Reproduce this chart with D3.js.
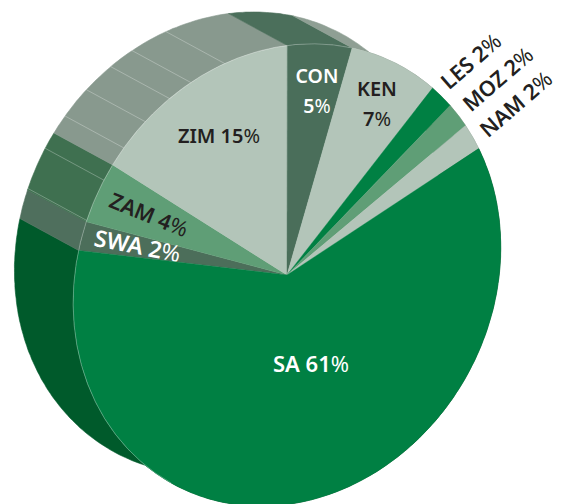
<!DOCTYPE html>
<html>
<head>
<meta charset="utf-8">
<script src="https://cdn.jsdelivr.net/npm/d3@7"></script>
<style>
	body { margin: 0; background: #fff; }
	svg { display: block; }
	text { font-family: "Noto Sans", sans-serif; font-weight: 600; text-anchor: middle; }
	text tspan.pct { font-weight: 400; }
</style>
</head>
<body>
<div id="chart"></div>
<script>
'use strict';

const countries = ["SA", "SWA", "ZAM", "ZIM", "CON", "KEN", "LES", "MOZ", "NAM"];
// unrounded shares as measured from the slice angles, the labels carry the rounded ones
const shares = [60.9, 2, 4.2, 15.2, 4.9, 7, 1.9, 1.9, 2];
const topColours = ["#008043", "#4c6e5a", "#5f9e76", "#b3c5b9", "#4a6e5a", "#b3c5b9", "#008043", "#5f9e76", "#b3c5b9"];
const wallColours = ["#005a2b", "#4f6f5d", "#3f7050", "#88998e", "#4b6f5b", "#8f9f94", "#8f9f94", "#8f9f94", "#8f9f94"];

// thin pale lines on the side wall: which slice, how far along its arc
const wallLineSlice = [2, 2, 3, 3, 3, 3, 3];
const wallLineAlong = [0.02, 0.72, 0.09, 0.24, 0.39, 0.51, 0.69];

// label text, baseline centre, rotation and size
const labelLines = [["SA 61%"], ["SWA 2%"], ["ZAM 4%"], ["ZIM 15%"], ["CON", "5%"], ["KEN", "7%"], ["LES 2%"], ["MOZ 2%"], ["NAM 2%"]];
const labelX = [311, 136, 146, 219, 317, 377, 476, 503, 521];
const labelY = [372, 254, 222, 143, 83, 96, 67, 85, 110];
const labelAngle = [0, 11, 22, 0, 0, 0, -41, -41, -41];
const labelSize = [22, 23, 21.5, 20, 19.5, 20, 21.5, 21.5, 21.5];
const labelFill = ["#fff", "#fff", "#231f20", "#231f20", "#fff", "#231f20", "#231f20", "#231f20", "#231f20"];

const width = 561, height = 504;
const cx = 287, cy = 275;
const rx = 206, ry = 238;	// tilted ellipse, short axis lies along the extrusion
const tilt = 28.5;
const depth = 0.325;		// extrusion in unit circle terms
const start = 31.7 * Math.PI / 180;

const svg = d3.select("#chart")
	.append("svg")
		.attr("width", width)
		.attr("height", height);

const pie = d3.pie()
	.sort(null)
	.startAngle(start)
	.endAngle(start + 2 * Math.PI)
	.value(d => d);
const slices = pie(shares);

const face = svg.append("g")
	.attr("transform", `translate(${cx},${cy}) rotate(${tilt}) scale(${rx},${ry})`);

const arc = d3.arc().innerRadius(0).outerRadius(1);
const rimArc = d3.arc().innerRadius(1).outerRadius(1);

const rim = (a) => [Math.sin(a), -Math.cos(a)];
const line = d3.line();

function wallPath(d) {
	const n = Math.max(8, Math.ceil((d.endAngle - d.startAngle) * 60));
	const along = d3.range(n + 1).map(i => d.startAngle + (d.endAngle - d.startAngle) * i / n);
	const near = along.map(rim);
	const far = along.map(rim).map(p => [p[0] - depth, p[1]]).reverse();
	return line(near.concat(far)) + "Z";
}

// side wall first, the top covers what is not seen
face.append("g")
	.selectAll("path")
	.data(slices)
	.join("path")
		.attr("d", wallPath)
		.attr("fill", (d, i) => wallColours[i])
		.attr("stroke", (d, i) => wallColours[i])
		.attr("stroke-width", 0.6)
		.attr("vector-effect", "non-scaling-stroke");

face.append("g")
	.selectAll("path")
	.data(wallLineSlice)
	.join("path")
		.attr("d", (s, i) => {
			const d = slices[s];
			const p = rim(d.startAngle + (d.endAngle - d.startAngle) * wallLineAlong[i]);
			return line([p, [p[0] - depth, p[1]]]);
		})
		.attr("fill", "none")
		.attr("stroke", "#fff")
		.attr("stroke-opacity", 0.4)
		.attr("stroke-width", 0.7)
		.attr("vector-effect", "non-scaling-stroke");

const drawTop = (g, data) => g.selectAll("path")
	.data(data)
	.join("path")
		.attr("d", arc)
		.attr("fill", d => topColours[d.index])
		.attr("stroke", d => topColours[d.index])
		.attr("stroke-width", 0.4)
		.attr("vector-effect", "non-scaling-stroke");

drawTop(face.append("g"), slices.slice(1));

function addLabel(parent, i) {
	const t = parent.append("text")
		.attr("transform", `translate(${labelX[i]},${labelY[i]}) rotate(${labelAngle[i]})`)
		.attr("font-size", labelSize[i])
		.attr("fill", labelFill[i]);
	labelLines[i].forEach((l, k) => {
		const m = l.match(/^(.*?)(%?)$/);
		const row = t.append("tspan").attr("x", 0).attr("y", k * 29.5);
		row.append("tspan").text(m[1]);
		if (m[2]) row.append("tspan").attr("class", "pct").text(m[2]);
	});
}

// SA goes on after this label because it cuts off the bottom of it
addLabel(svg, 1);

const overlay = svg.append("g")
	.attr("transform", `translate(${cx},${cy}) rotate(${tilt}) scale(${rx},${ry})`);
drawTop(overlay, slices.slice(0, 1));

// pale rim where the top meets the wall
overlay.append("path")
	.attr("d", rimArc({ startAngle: slices[0].startAngle + 2.6, endAngle: slices[5].startAngle }))
	.attr("fill", "none")
	.attr("stroke", "#fff")
	.attr("stroke-opacity", 0.25)
	.attr("stroke-width", 0.6)
	.attr("vector-effect", "non-scaling-stroke");

countries.forEach((c, i) => { if (i !== 1) addLabel(svg, i); });
</script>
</body>
</html>
